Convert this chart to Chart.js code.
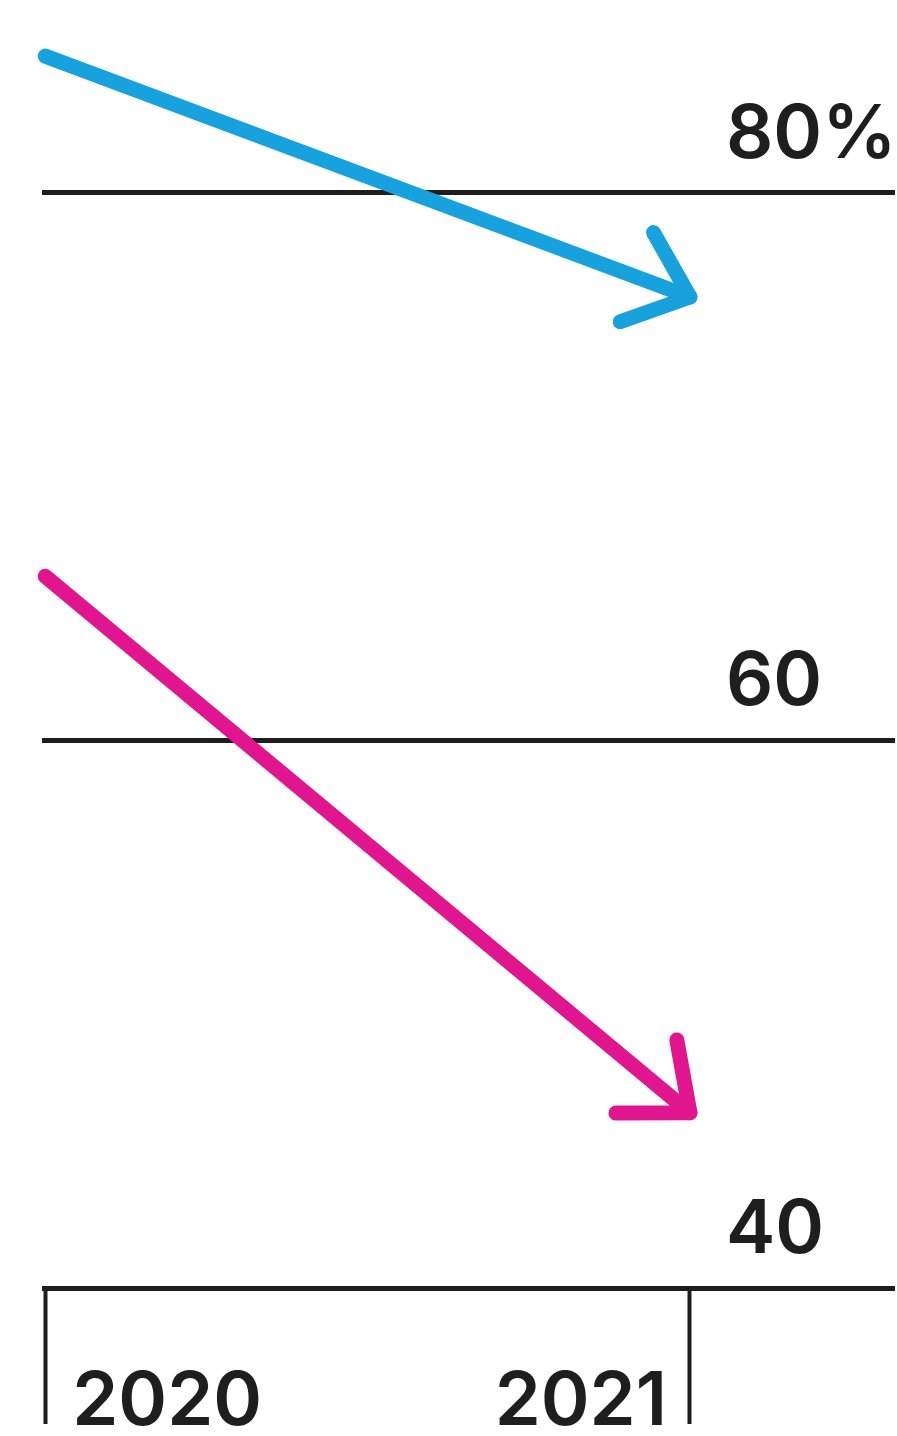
<!DOCTYPE html>
<html>
<head>
<meta charset="utf-8">
<script src="https://cdn.jsdelivr.net/npm/chart.js@4.4.1/dist/chart.umd.min.js"></script>
<style>
html, body { margin: 0; padding: 0; background: #fff; }
#wrap { position: relative; width: 897px; height: 1436px; }
</style>
</head>
<body>
<div id="wrap"><canvas id="arrowChart"></canvas></div>
<script>
// datos
const years = [2020, 2021];
const blueValues = [85, 76.2];
const pinkValues = [66, 46.4];
const yTicks = [40, 60, 80];
const yTickLabels = ['40', '60', '80%'];
const xTickLabels = ['2020', '2021'];

const labelFont = '600 74px Inter';
const inkColor = '#1e1e1e';

// punta de flecha al final de cada linea
const arrowHeads = {
    id: 'arrowHeads',
    afterDatasetsDraw(chart) {
        const ctx = chart.ctx;
        chart.data.datasets.forEach((ds, i) => {
            const pts = chart.getDatasetMeta(i).data;
            const a = pts[pts.length - 2], b = pts[pts.length - 1];
            const ang = Math.atan2(b.y - a.y, b.x - a.x);
            const len = 74, spread = 40 * Math.PI / 180;
            ctx.save();
            ctx.strokeStyle = ds.borderColor;
            ctx.lineWidth = ds.borderWidth;
            ctx.lineCap = 'round';
            ctx.lineJoin = 'round';
            ctx.beginPath();
            ctx.moveTo(b.x - len * Math.cos(ang - spread), b.y - len * Math.sin(ang - spread));
            ctx.lineTo(b.x, b.y);
            ctx.lineTo(b.x - len * Math.cos(ang + spread), b.y - len * Math.sin(ang + spread));
            ctx.stroke();
            ctx.restore();
        });
    }
};

// etiquetas de los ejes dibujadas a mano
const axisLabels = {
    id: 'axisLabels',
    afterDraw(chart) {
        const ctx = chart.ctx;
        const y = chart.scales.y, x = chart.scales.x;
        ctx.save();
        ctx.font = labelFont;
        ctx.fillStyle = inkColor;
        ctx.textBaseline = 'alphabetic';
        ctx.textAlign = 'left';
        yTicks.forEach((v, i) => {
            ctx.fillText(yTickLabels[i], 726, y.getPixelForValue(v) - 35);
        });
        const base = chart.height - 11;
        ctx.textAlign = 'left';
        ctx.fillText(xTickLabels[0], x.getPixelForValue(years[0]) + 27, base);
        ctx.textAlign = 'right';
        ctx.fillText(xTickLabels[1], x.getPixelForValue(years[1]) - 23, base);
        ctx.restore();
    }
};

const ctx = document.getElementById('arrowChart').getContext('2d');
const arrowChart = new Chart(ctx, {
    type: 'line',
    data: {
        datasets: [{
            data: years.map((yr, i) => ({ x: yr, y: blueValues[i] })),
            borderColor: '#17A2DD',
            borderWidth: 15,
            borderCapStyle: 'round',
            pointRadius: 0,
            clip: false
        }, {
            data: years.map((yr, i) => ({ x: yr, y: pinkValues[i] })),
            borderColor: '#E1168E',
            borderWidth: 15,
            borderCapStyle: 'round',
            pointRadius: 0,
            clip: false
        }]
    },
    options: {
        responsive: true,
        maintainAspectRatio: false,
        animation: false,
        layout: { padding: { left: 42, right: 2, top: 0, bottom: 12 } },
        plugins: { legend: { display: false }, tooltip: { enabled: false } },
        scales: {
            x: {
                type: 'linear',
                min: 2019.995,
                max: 2021.318,
                afterBuildTicks: (s) => { s.ticks = years.map(v => ({ value: v })); },
                ticks: { display: false },
                border: { display: false },
                grid: {
                    drawOnChartArea: false,
                    drawTicks: true,
                    tickLength: 136,
                    tickWidth: 4,
                    tickColor: inkColor
                }
            },
            y: {
                min: 40,
                max: 87.05,
                afterBuildTicks: (s) => { s.ticks = yTicks.map(v => ({ value: v })); },
                ticks: { display: false },
                border: { display: false },
                grid: {
                    color: inkColor,
                    lineWidth: 5,
                    drawTicks: false
                }
            }
        }
    },
    plugins: [arrowHeads, axisLabels]
});
</script>
</body>
</html>
